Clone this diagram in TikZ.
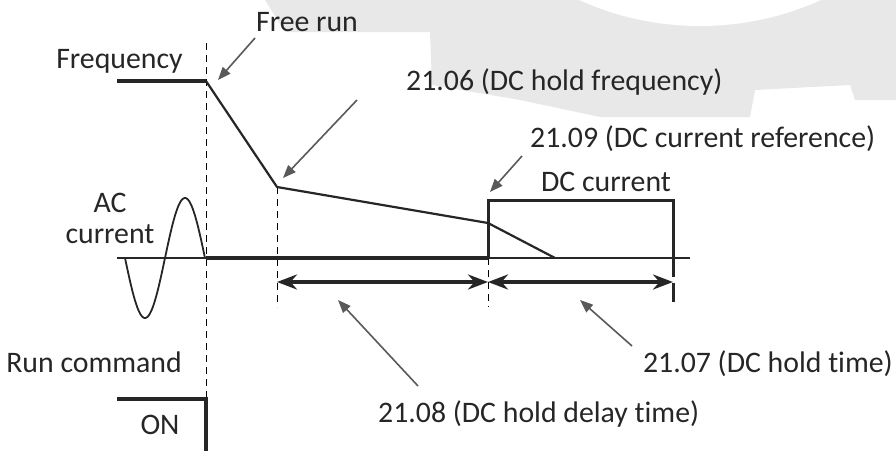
\documentclass[tikz,border=0pt]{standalone}
\usepackage{fontspec}
\setmainfont{Carlito}[Ligatures=NoCommon]
\usetikzlibrary{arrows.meta, positioning}

\begin{document}
\begin{tikzpicture}[
  x=1pt, y=-1pt,
  >=Stealth,
  every node/.style={font=\fontsize{29.8}{31}\selectfont, inner sep=0pt, text=black!85},
  label/.style={anchor=base},
  wmark/.style={fill=black!9},
  signal/.style={line width=4pt, black!85},
  ramp/.style={line width=2.2pt, black!85},
  level/.style={line width=3pt, black!85},
  axis/.style={line width=1.3pt, black!85},
  marker/.style={line width=1pt, dash pattern=on 7pt off 5pt},
  span/.style={{Stealth[length=20pt,width=15pt]}-{Stealth[length=20pt,width=15pt]},
    line width=4pt, black!85},
  callout/.style={-{Triangle[length=13pt,width=10pt]}, line width=1.6pt, black!65},
]
  \useasboundingbox (0,0) rectangle (896,450);

  % -------------------------------------------------------
  %  Watermark in the background
  % -------------------------------------------------------
  \begin{scope}
    \clip (0,0) rectangle (896,450);
    \fill[wmark] (265,0) -- (285,32) -- (430,32) -- (432,85) -- (520,100)
      -- (600,117) -- (750,117) -- (755,90) -- (850,85) -- (855,100)
      -- (896,100) -- (896,0) -- cycle;
    \fill[white] (700,-267) circle (293pt);
  \end{scope}

  % -------------------------------------------------------
  %  Points of the curves
  % -------------------------------------------------------
  \coordinate (f0) at (117,81);
  \coordinate (f1) at (206,81);
  \coordinate (f2) at (277,187);
  \coordinate (f3) at (488,223);
  \coordinate (f4) at (555,258);

  \coordinate (a0) at (117,258);
  \coordinate (a1) at (690,258);
  \coordinate (a2) at (206,258);
  \coordinate (a3) at (488,258);

  \coordinate (r0) at (488,200);
  \coordinate (r1) at (673,200);
  \coordinate (r2) at (673,258);

  \coordinate (d0) at (277,282);
  \coordinate (d1) at (488,282);
  \coordinate (d2) at (673,282);

  \coordinate (on0) at (117,399);
  \coordinate (on1) at (206,399);
  \coordinate (on2) at (206,452);

  % -------------------------------------------------------
  %  Labels
  % -------------------------------------------------------
  \node[label] (freq)    at (119.5,68) {Frequency};
  \node[label] (freerun) at (307,31) {Free run};
  \node[label, anchor=base west] (hfreq) at (406,90) {21.06 (DC hold frequency)};
  \node[label, anchor=base west] (iref)  at (530,147) {21.09 (DC current reference)};
  \node[label] (dccur)   at (606,191) {DC current};
  \node[label] (ac)      at (110,212) {AC};
  \node[label] (accur)   at (110,243) {current};
  \node[label, anchor=base east] (runcmd) at (182,372) {Run command};
  \node[label] (on)      at (160,434) {ON};
  \node[label, anchor=base west] (tdelay) at (378,422) {21.08 (DC hold delay time)};
  \node[label, anchor=base east] (thold)  at (893,372) {21.07 (DC hold time)};

  % -------------------------------------------------------
  %  Time markers (dashed)
  % -------------------------------------------------------
  \draw[marker] (206,43) -- (on1);
  \draw[marker] (f2) -- (277,307);
  \draw[marker] (a3) -- (488,307);
  \draw[line width=3pt, black!85, dash pattern=on 19pt off 6pt on 19pt]
    (r2) -- (673,307);

  % -------------------------------------------------------
  %  Frequency and currents
  % -------------------------------------------------------
  \draw[axis] (a0) -- (a1);
  \draw[signal] (f0) -- (f1);
  \draw[ramp, line join=round] (f1) -- (f2) -- (f3) -- (f4);
  \draw[signal] (a2) -- (a3);
  \draw[level] (a3) -- (r0) -- (r1) -- (r2);
  \draw[ramp, line width=1.8pt] plot[domain=125:205, samples=80, smooth]
    (\x, {258+60*sin(4.5*(\x-125))});

  % -------------------------------------------------------
  %  Run command
  % -------------------------------------------------------
  \draw[signal] (on0) -- (on1) -- (on2);

  % -------------------------------------------------------
  %  Time spans
  % -------------------------------------------------------
  \draw[span] (d0) -- (d1);
  \draw[span] (d1) -- (d2);

  % -------------------------------------------------------
  %  Call-outs
  % -------------------------------------------------------
  \coordinate (cFree)  at (255,38);
  \coordinate (cFreq)  at (357,100);
  \coordinate (cRef)   at (522,156);
  \coordinate (cDelay) at (418,386);
  \coordinate (cHold)  at (632,346);

  \draw[callout] (cFree)  -- (218,80);
  \draw[callout] (cFreq)  -- (283,178);
  \draw[callout] (cRef)   -- (490,192);
  \draw[callout] (cDelay) -- (338,300);
  \draw[callout] (cHold)  -- (580,300);

\end{tikzpicture}
\end{document}
